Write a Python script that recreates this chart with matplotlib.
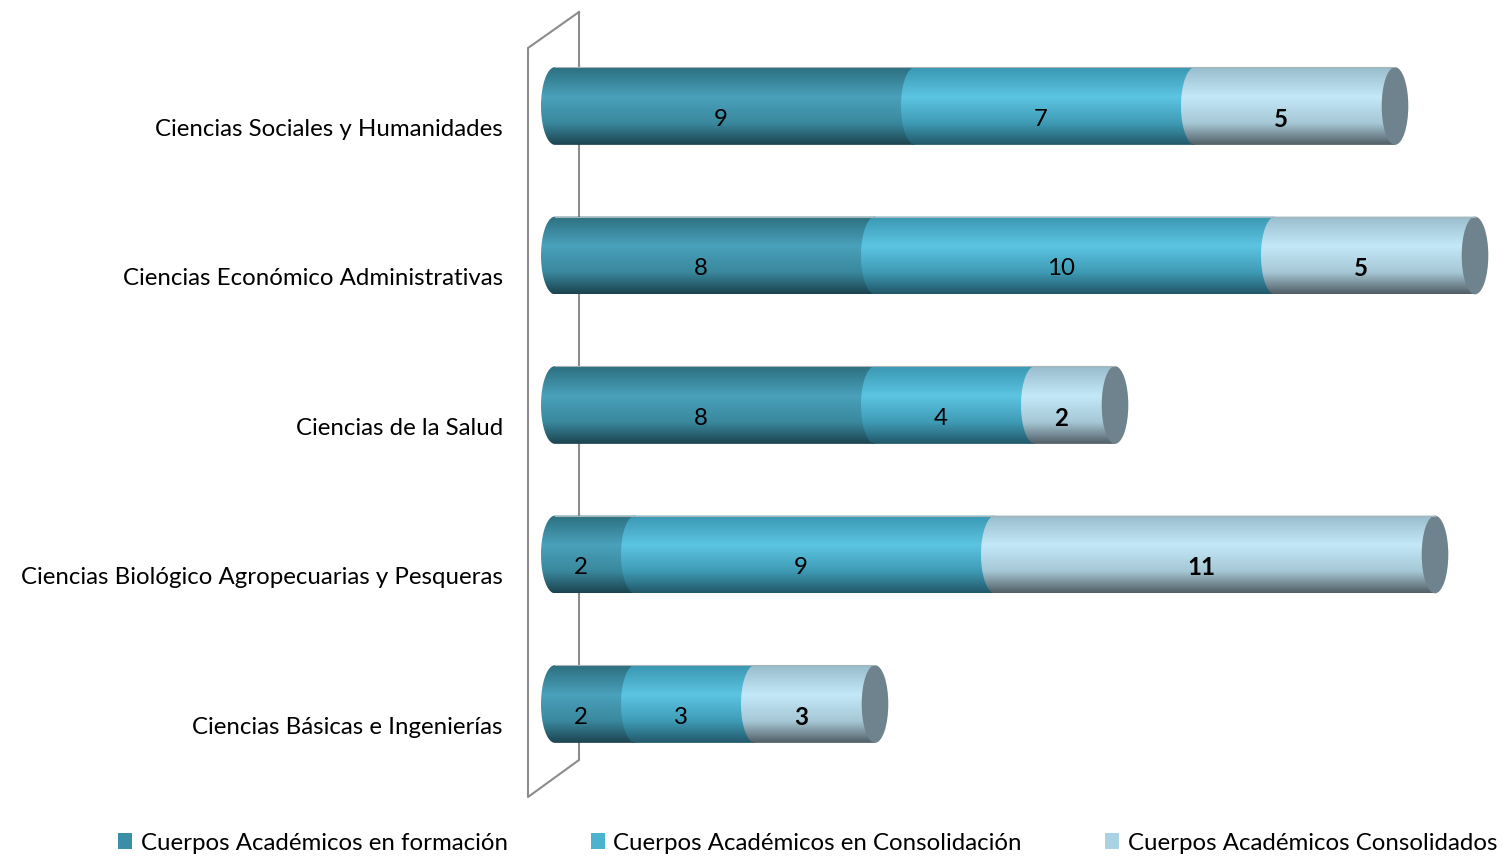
import numpy as np
import matplotlib
matplotlib.use("Agg")
import matplotlib.pyplot as plt
from matplotlib.path import Path
from matplotlib.patches import PathPatch, Patch, Ellipse
from matplotlib.colors import to_rgb

categories = ['Ciencias Sociales y Humanidades',
              'Ciencias Económico Administrativas',
              'Ciencias de la Salud',
              'Ciencias Biológico Agropecuarias y Pesqueras',
              'Ciencias Básicas e Ingenierías']
en_formacion = [9, 8, 8, 2, 2]
en_consolidacion = [7, 10, 4, 9, 3]
consolidados = [5, 5, 2, 11, 3]
series_names = ['Cuerpos Académicos en formación',
                'Cuerpos Académicos en Consolidación',
                'Cuerpos Académicos Consolidados']

# vertical shading of each cylinder (top edge -> highlight -> lower -> bottom)
shades = [
    ['#2c6f80', '#4aa1bb', '#3a889e', '#1c4450'],
    ['#3a97b1', '#5cc5e2', '#3f9bb5', '#22586a'],
    ['#98bccb', '#c3e8f8', '#a6c8d6', '#525f66'],
]
legend_colors = ['#3a8fa6', '#4cb3cf', '#a9d3e3']
cap_color = '#6e838d'
fs = 17.3

plt.rcParams['font.family'] = ['Lato', 'DejaVu Sans']
W, H = 1505, 858
fig = plt.figure(figsize=(W / 100, H / 100), dpi=100)

# axes from px 535 to right edge; 1 unit = 40 px, x=0 at px 555
ax = fig.add_axes([535 / W, 0, 1 - 535 / W, 1])
ax.axis('off')

rx, ry = 0.35, 0.26
stops = np.array([0.0, 0.38, 0.72, 1.0])
rows = np.linspace(0, 1, 80)


def gradient(cols):
    rgb = np.array([to_rgb(c) for c in cols])
    img = np.stack([np.interp(rows, stops, rgb[:, k]) for k in range(3)], axis=-1)
    return img[:, None, :]


def segment(a, b, yc, cols, z):
    t = np.linspace(np.pi / 2, 3 * np.pi / 2, 40)
    xs = list(a + rx * np.cos(t)) + [b, b, a]
    ys = list(yc + ry * np.sin(t)) + [yc - ry, yc + ry, yc + ry]
    verts = list(zip(xs, ys))
    codes = [Path.MOVETO] + [Path.LINETO] * (len(verts) - 2) + [Path.CLOSEPOLY]
    patch = PathPatch(Path(verts, codes), facecolor='none', edgecolor='none')
    ax.add_patch(patch)
    im = ax.imshow(gradient(cols), extent=(a - rx, b, yc + ry, yc - ry),
                   aspect='auto', origin='upper', zorder=z, interpolation='bilinear')
    im.set_clip_path(patch)


data = [en_formacion, en_consolidacion, consolidados]
for i in range(len(categories)):
    left = 0
    for s in range(3):
        v = data[s][i]
        segment(left, left + v, i, shades[s], 3 + s)
        ax.text(left + v / 2 - rx, i + 0.09, str(v), ha='center', va='center',
                fontsize=fs, fontweight='bold' if s == 2 else 'normal',
                color='black', zorder=10)
        left += v
    ax.add_patch(Ellipse((left, i), 2 * rx * 0.95, 2 * ry, facecolor=cap_color,
                         edgecolor='none', zorder=7))
    ax.plot([0, left], [i - ry, i - ry], color='#a8b4b8', lw=0.8, zorder=8)
    ax.text(-1.3, i + 0.155, categories[i], ha='right', va='center', fontsize=fs)

ax.set_xlim(-0.5, (W - 555) / 40)
ax.set_ylim((H - 106) / 149.5, -106 / 149.5)

# back wall outline
wx = np.array([579, 528, 528, 579, 579])
wy = np.array([12, 48, 797, 760, 12])
ax.plot(wx / W, 1 - wy / H, transform=fig.transFigure, color='#8c8c8c',
        lw=1.5, zorder=1, clip_on=False)

handles = [Patch(facecolor=c, edgecolor='none') for c in legend_colors]
fig.legend(handles, series_names, loc='center', bbox_to_anchor=(0.5365, 1 - 843 / H),
           ncol=3, frameon=False, fontsize=fs, handlelength=0.6, handleheight=0.6,
           handletextpad=0.35, columnspacing=3.45, borderpad=0.2)

fig.savefig('out.png', dpi=100)
